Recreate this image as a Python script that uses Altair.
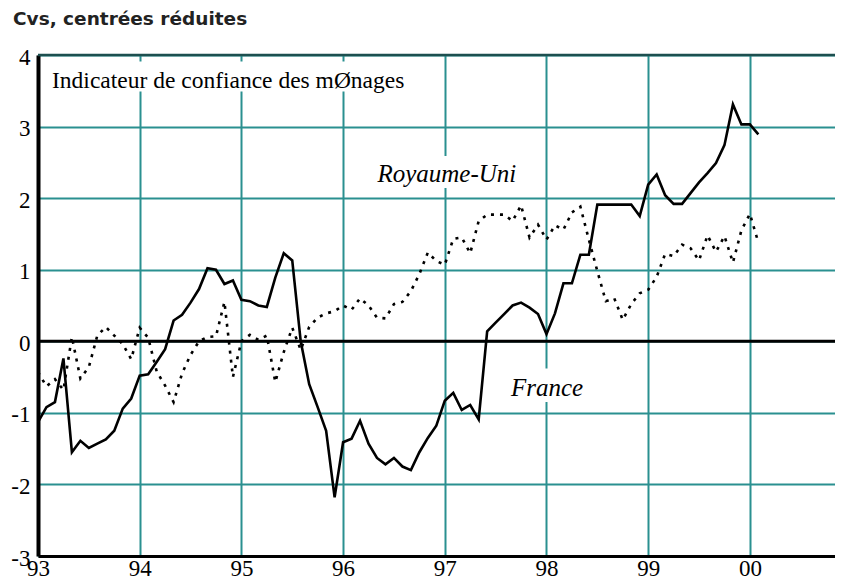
import altair as alt
import pandas as pd

# Monthly series, January 1993 to February 2000
months = list(range(86))
france = [
    -1.13, -0.92, -0.85, -0.24, -1.55, -1.39, -1.49, -1.43, -1.37, -1.25, -0.94, -0.80,
    -0.48, -0.46, -0.29, -0.11, 0.29, 0.37, 0.54, 0.73, 1.02, 1.00, 0.80, 0.85,
    0.58, 0.56, 0.50, 0.48, 0.89, 1.23, 1.13, 0.00, -0.60, -0.92, -1.25, -2.18,
    -1.41, -1.36, -1.11, -1.43, -1.63, -1.72, -1.63, -1.75, -1.80, -1.55, -1.35, -1.18,
    -0.83, -0.72, -0.96, -0.89, -1.09, 0.14, 0.26, 0.38, 0.50, 0.54, 0.47, 0.38,
    0.10, 0.39, 0.81, 0.81, 1.21, 1.21, 1.91, 1.91, 1.91, 1.91, 1.91, 1.75,
    2.19, 2.33, 2.04, 1.92, 1.92, 2.07, 2.22, 2.35, 2.49, 2.74, 3.31, 3.03,
    3.03, 2.89,
]
royaume_uni = [
    -0.43, -0.63, -0.53, -0.68, 0.06, -0.52, -0.36, 0.08, 0.20, 0.08, -0.04, -0.25,
    0.19, 0.05, -0.42, -0.62, -0.85, -0.45, -0.19, 0.00, 0.06, 0.07, 0.55, -0.50,
    0.00, 0.09, 0.02, 0.08, -0.57, -0.15, 0.19, -0.12, 0.20, 0.33, 0.39, 0.42,
    0.50, 0.44, 0.60, 0.50, 0.33, 0.32, 0.52, 0.55, 0.70, 0.94, 1.24, 1.12,
    1.07, 1.43, 1.45, 1.23, 1.68, 1.77, 1.77, 1.77, 1.68, 1.90, 1.45, 1.63,
    1.42, 1.62, 1.56, 1.80, 1.88, 1.42, 0.98, 0.56, 0.60, 0.30, 0.52, 0.67,
    0.72, 0.90, 1.22, 1.19, 1.35, 1.30, 1.13, 1.48, 1.25, 1.47, 1.10, 1.55,
    1.78, 1.38,
]
year_ticks = [1993, 1994, 1995, 1996, 1997, 1998, 1999, 2000]
value_ticks = [-3, -2, -1, 0, 1, 2, 3, 4]

t = [1993 + m / 12 for m in months]
df_fr = pd.DataFrame({"t": t, "v": france})
df_uk = pd.DataFrame({"t": t, "v": royaume_uni})

GRID = "#2a9090"
SERIF = "Liberation Serif"

xs = alt.Scale(domain=[1993, 2000.837], nice=False, zero=False)
ys = alt.Scale(domain=[-3, 4], nice=False, zero=False)

xaxis = alt.Axis(
    values=year_ticks, format="d", labelExpr="slice(datum.label, 2)",
    grid=True, gridColor=GRID, gridWidth=2, gridOpacity=1,
    domainColor="black", domainWidth=3, ticks=False,
    labelFont=SERIF, labelFontSize=23, labelColor="black", labelPadding=1,
    labelFlush=False, labelOverlap=False, title=None,
)
yaxis = alt.Axis(
    values=value_ticks, labelExpr="toString(datum.value)",
    grid=True, gridColor=GRID, gridWidth=2, gridOpacity=1,
    domainColor="black", domainWidth=4, ticks=False,
    labelFont=SERIF, labelFontSize=23, labelColor="black", labelPadding=8,
    labelFlush=False, labelOffset=2, labelOverlap=False, title=None,
)

# white boxes behind annotations
boxes_df = pd.DataFrame({
    "x": [1993.05, 1996.31, 1997.62],
    "x2": [1996.66, 1997.74, 1998.39],
    "y": [3.49, 2.14, -0.85],
    "y2": [3.91, 2.59, -0.38],
})
boxes = alt.Chart(boxes_df).mark_rect(color="white").encode(
    x=alt.X("x:Q", scale=xs, axis=xaxis), x2="x2:Q",
    y=alt.Y("y:Q", scale=ys, axis=yaxis), y2="y2:Q",
)

zero = alt.Chart(pd.DataFrame({"y": [0]})).mark_rule(color="black", strokeWidth=3).encode(
    y=alt.Y("y:Q", scale=ys)
)
top = alt.Chart(pd.DataFrame({"y": [4]})).mark_rule(color="#1d4f4f", strokeWidth=2.5).encode(
    y=alt.Y("y:Q", scale=ys)
)

uk_line = alt.Chart(df_uk).mark_line(color="black", strokeWidth=2.6, strokeDash=[3, 6]).encode(
    x=alt.X("t:Q", scale=xs), y=alt.Y("v:Q", scale=ys)
)
fr_line = alt.Chart(df_fr).mark_line(color="black", strokeWidth=2.6).encode(
    x=alt.X("t:Q", scale=xs), y=alt.Y("v:Q", scale=ys)
)

label_main = alt.Chart(pd.DataFrame({
    "x": [1993.138], "y": [3.545], "txt": ["Indicateur de confiance des mØnages"]
})).mark_text(align="left", baseline="alphabetic", font=SERIF, fontSize=23.5, color="black").encode(
    x=alt.X("x:Q", scale=xs), y=alt.Y("y:Q", scale=ys), text="txt:N"
)
labels_series = alt.Chart(pd.DataFrame({
    "x": [1997.02, 1998.005], "y": [2.224, -0.77], "txt": ["Royaume-Uni", "France"]
})).mark_text(align="center", baseline="alphabetic", font=SERIF, fontSize=25,
              fontStyle="italic", color="black").encode(
    x=alt.X("x:Q", scale=xs), y=alt.Y("y:Q", scale=ys), text="txt:N"
)

title = alt.Chart(pd.DataFrame({"txt": ["Cvs, centrées réduites"]})).mark_text(
    align="left", baseline="alphabetic", font="DejaVu Sans", fontWeight="bold",
    fontSize=18.5, color="#222222"
).encode(x=alt.value(-25), y=alt.value(-30), text="txt:N")

chart = alt.layer(
    boxes, zero, top, uk_line, fr_line, label_main, labels_series, title
).properties(
    width=797, height=501,
    padding={"left": 30, "top": 47, "right": 0, "bottom": 26},
    autosize=alt.AutoSizeParams(type="none"),
).configure_view(stroke=None)

chart.save("out.html", embed_options={"renderer": "svg", "actions": False})
